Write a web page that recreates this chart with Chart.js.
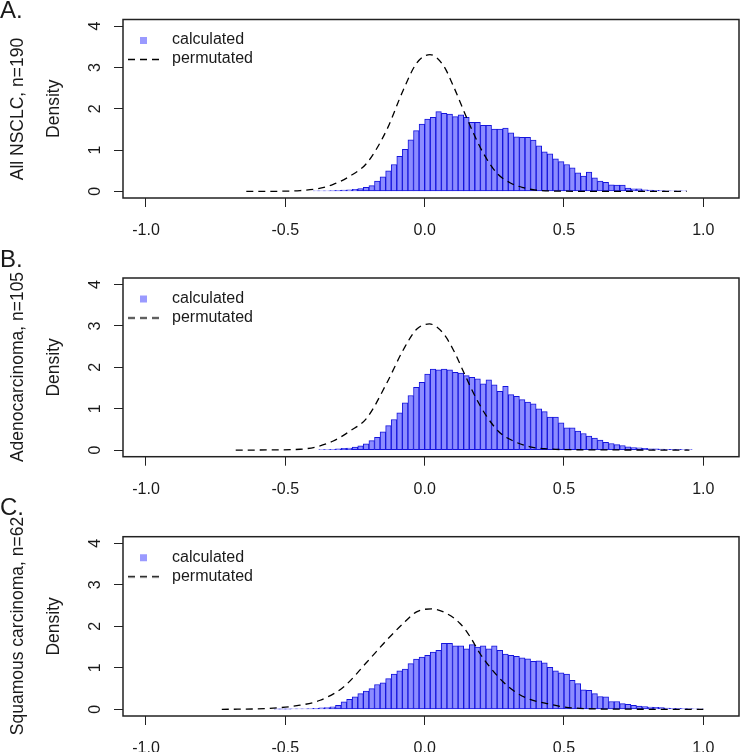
<!DOCTYPE html>
<html><head><meta charset="utf-8">
<script src="https://cdn.jsdelivr.net/npm/chart.js@4.4.1/dist/chart.umd.min.js"></script>
<style>
html,body{margin:0;padding:0;background:#fff;width:741px;height:752px;overflow:hidden;position:relative;}
canvas{position:absolute;left:0;}
.letter{position:absolute;left:0;font-family:'Liberation Sans',Arial,sans-serif;font-size:24px;line-height:24px;color:#1a1a1a;}
.outer{position:absolute;left:17px;font-family:'Liberation Sans',Arial,sans-serif;font-size:17.5px;line-height:21px;color:#1a1a1a;white-space:nowrap;transform:translate(-50%,-50%) rotate(-90deg);}
</style></head><body>
<canvas id="cA" width="741" height="250" style="top:0px"></canvas>
<canvas id="cB" width="741" height="250" style="top:250px"></canvas>
<canvas id="cC" width="741" height="252" style="top:500px"></canvas>
<div class="letter" style="top:-2px">A.</div>
<div class="letter" style="top:247px">B.</div>
<div class="letter" style="top:495px">C.</div>
<div class="outer" id="oA" style="top:108.8px"></div>
<div class="outer" id="oB" style="top:367.3px"></div>
<div class="outer" id="oC" style="top:626.3px"></div>
<script>
// ---------- data ----------
const seriesLabels = ['calculated', 'permutated'];
const xTickValues = [-1.0, -0.5, 0.0, 0.5, 1.0];
const yTickValues = [0, 1, 2, 3, 4];
const binWidth = 0.02;

// Panel A: All NSCLC, n=190
const labelA = 'All NSCLC, n=190';
const binStartA = -0.40;
const histA = [0.01, 0.01, 0.015, 0.02, 0.025, 0.03, 0.04, 0.05, 0.07, 0.10,
  0.14, 0.25, 0.35, 0.50, 0.65, 0.85, 1.02, 1.25, 1.47, 1.63, 1.75, 1.79, 1.93, 1.89, 1.87, 1.81, 1.85, 1.79, 1.67, 1.67,
  1.60, 1.60, 1.51, 1.51, 1.53, 1.42, 1.32, 1.31, 1.31, 1.24, 1.10, 0.96, 0.91, 0.79, 0.72, 0.65, 0.57, 0.45, 0.37, 0.47,
  0.33, 0.25, 0.22, 0.16, 0.15, 0.15, 0.08, 0.06, 0.06, 0.04, 0.03, 0.025, 0.02, 0.015, 0.015, 0.01, 0.01];
const permXA = [-0.64, -0.50, -0.447, -0.387, -0.328, -0.268, -0.207, -0.136, -0.077, -0.029, 0.019, 0.067, 0.103, 0.139, 0.175, 0.21, 0.258, 0.306, 0.354, 0.40, 0.50, 0.60, 0.94];
const permYA = [0, 0.005, 0.02, 0.06, 0.17, 0.37, 0.69, 1.49, 2.45, 3.10, 3.31, 3.05, 2.55, 1.97, 1.41, 0.93, 0.45, 0.21, 0.09, 0.03, 0.005, 0.001, 0];

// Panel B: Adenocarcinoma, n=105
const labelB = 'Adenocarcinoma, n=105';
const binStartB = -0.38;
const histB = [0.01, 0.015, 0.02, 0.03, 0.04, 0.05, 0.07, 0.10, 0.15,
  0.23, 0.31, 0.44, 0.59, 0.74, 0.90, 1.14, 1.32, 1.52, 1.64, 1.84, 1.96, 1.94, 1.96, 1.94, 1.88, 1.86, 1.80, 1.76, 1.72,
  1.60, 1.70, 1.58, 1.42, 1.54, 1.34, 1.30, 1.22, 1.16, 1.12, 1.00, 0.93, 0.80, 0.80, 0.66, 0.54, 0.54, 0.46, 0.40, 0.34,
  0.29, 0.24, 0.19, 0.16, 0.13, 0.11, 0.08, 0.06, 0.056, 0.04, 0.03, 0.03, 0.024, 0.02, 0.016, 0.016, 0.01, 0.01];
const permXB = [-0.678, -0.567, -0.447, -0.387, -0.328, -0.268, -0.207, -0.136, -0.077, -0.029, 0.017, 0.067, 0.103, 0.139, 0.175, 0.222, 0.27, 0.318, 0.378, 0.438, 0.52, 0.95];
const permYB = [0, 0.003, 0.02, 0.08, 0.22, 0.46, 0.78, 1.62, 2.42, 2.92, 3.05, 2.82, 2.42, 1.90, 1.38, 0.82, 0.42, 0.22, 0.08, 0.03, 0.01, 0];

// Panel C: Squamous carcinoma, n=62
const labelC = 'Squamous carcinoma, n=62';
const binStartC = -0.54;
const histC = [0.003, 0.004, 0.006, 0.008, 0.01, 0.015, 0.02, 0.025, 0.035, 0.045, 0.06, 0.10, 0.18, 0.24, 0.30, 0.38, 0.44,
  0.50, 0.60, 0.64, 0.74, 0.85, 0.93, 0.97, 1.10, 1.21, 1.26, 1.30, 1.38, 1.42, 1.59, 1.59, 1.53, 1.53, 1.46, 1.56, 1.50,
  1.53, 1.46, 1.53, 1.42, 1.33, 1.30, 1.28, 1.24, 1.22, 1.16, 1.17, 1.12, 1.01, 0.93, 0.88, 0.85, 0.70, 0.62, 0.47, 0.46,
  0.38, 0.31, 0.30, 0.19, 0.19, 0.14, 0.12, 0.10, 0.08, 0.064, 0.056, 0.048, 0.04, 0.032, 0.024, 0.024, 0.016, 0.016, 0.008, 0.008];
const permXC = [-0.728, -0.567, -0.447, -0.375, -0.291, -0.207, -0.136, -0.077, -0.029, 0.025, 0.079, 0.127, 0.163, 0.199, 0.234, 0.282, 0.33, 0.378, 0.438, 0.498, 0.557, 0.64, 1.00];
const permYC = [0, 0.02, 0.10, 0.22, 0.54, 1.14, 1.67, 2.07, 2.35, 2.42, 2.31, 2.07, 1.75, 1.34, 1.02, 0.66, 0.40, 0.24, 0.14, 0.06, 0.024, 0.008, 0];

// ---------- style ----------
const FONT = "'Liberation Sans', Arial, sans-serif";
const TXT = '#1a1a1a';
const BAR_FILL = '#8c8cff';
const BAR_EDGE = '#1414dc';
const LEGEND_FILL = '#9a9aff';
Chart.defaults.font.family = FONT;
Chart.defaults.font.size = 16;
Chart.defaults.color = TXT;

function makeImg(kind) {
  const c = document.createElement('canvas');
  c.width = 42; c.height = 16;
  const g = c.getContext('2d');
  if (kind === 'square') {
    g.fillStyle = LEGEND_FILL;
    g.fillRect(18, 5, 7, 7);
  } else {
    g.strokeStyle = '#000';
    g.lineWidth = 1.3;
    g.setLineDash([7, 5]);
    g.beginPath(); g.moveTo(6, 8.5); g.lineTo(37, 8.5); g.stroke();
  }
  return c;
}
const sqImg = makeImg('square');
const dashImg = makeImg('dash');

const boxPlugin = {
  id: 'plotBox',
  afterDatasetsDraw(chart) {
    const {ctx, chartArea: a} = chart;
    ctx.save();
    ctx.strokeStyle = '#222';
    ctx.lineWidth = 1.5;
    ctx.strokeRect(a.left, a.top, a.right - a.left, a.bottom - a.top);
    ctx.restore();
  }
};
const legendPlace = {
  id: 'legendPlace',
  afterLayout(chart) {
    const lg = chart.legend; if (!lg) return;
    const a = chart.chartArea;
    lg.left = a.left - 4;
    lg.top = a.top + 9.5;
    lg.right = lg.left + 260;
    lg.bottom = lg.top + 80;
  }
};

function makePanel(id, outerId, outerLabel, binStart, hist, permX, permY, topPad, xAxisH) {
  document.getElementById(outerId).textContent = outerLabel;
  const bars = hist.map((v, i) => ({x: +(binStart + binWidth / 2 + i * binWidth).toFixed(4), y: v}));
  const line = permX.map((x, i) => ({x: x, y: permY[i]}));
  return new Chart(document.getElementById(id), {
    type: 'bar',
    data: {
      datasets: [
        {type: 'bar', label: seriesLabels[0], data: bars, backgroundColor: BAR_FILL, borderColor: BAR_EDGE,
         borderWidth: 1, borderSkipped: false, barPercentage: 1, categoryPercentage: 1, order: 2},
        {type: 'line', label: seriesLabels[1], data: line, borderColor: '#000', borderWidth: 1.3,
         borderDash: [7, 5], pointRadius: 0, fill: false, cubicInterpolationMode: 'monotone', order: 1}
      ]
    },
    options: {
      responsive: false,
      animation: false,
      events: [],
      layout: {padding: {top: topPad, right: 2, left: 0, bottom: 0}},
      scales: {
        x: {
          type: 'linear', min: -1.0825, max: 1.128, offset: false,
          afterBuildTicks: s => { s.ticks = xTickValues.map(v => ({value: v})); },
          ticks: {callback: v => Number(v).toFixed(1), padding: 14, maxRotation: 0, autoSkip: false, color: TXT, font: {size: 16}},
          grid: {display: true, offset: false, drawOnChartArea: false, drawTicks: true, tickLength: 9, color: '#222', lineWidth: 1},
          border: {display: false},
          afterFit: s => { s.height = xAxisH; s.paddingLeft = 0; s.paddingRight = 0; }
        },
        y: {
          type: 'linear', min: -0.16, max: 4.16,
          afterBuildTicks: s => { s.ticks = yTickValues.map(v => ({value: v})); },
          ticks: {callback: v => String(v), minRotation: 90, maxRotation: 90, crossAlign: 'center', padding: 14, autoSkip: false, color: TXT, font: {size: 16}},
          grid: {display: true, drawOnChartArea: false, drawTicks: true, tickLength: 9, color: '#222', lineWidth: 1},
          border: {display: false},
          title: {display: true, text: 'Density', color: TXT, font: {size: 17.5}, padding: {top: 44, bottom: 0}},
          afterFit: s => { s.width = 123; s.paddingTop = 0; s.paddingBottom = 0; }
        }
      },
      plugins: {
        tooltip: {enabled: false},
        title: {display: false},
        legend: {
          display: true, position: 'chartArea', align: 'start',
          labels: {
            usePointStyle: true, pointStyleWidth: 42, boxHeight: 16, padding: 3, color: TXT, font: {size: 16},
            generateLabels: chart => chart.data.datasets.map((ds, i) => ({
              text: ds.label, pointStyle: i === 0 ? sqImg : dashImg, fillStyle: 'transparent',
              strokeStyle: 'transparent', lineWidth: 0, hidden: false, datasetIndex: i, fontColor: TXT
            }))
          }
        }
      }
    },
    plugins: [boxPlugin, legendPlace]
  });
}

makePanel('cA', 'oA', labelA, binStartA, histA, permXA, permYA, 19.5, 52);
makePanel('cB', 'oB', labelB, binStartB, histB, permXB, permYB, 28, 43.3);
makePanel('cC', 'oC', labelC, binStartC, histC, permXC, permYC, 36.7, 36);
</script>
</body></html>
